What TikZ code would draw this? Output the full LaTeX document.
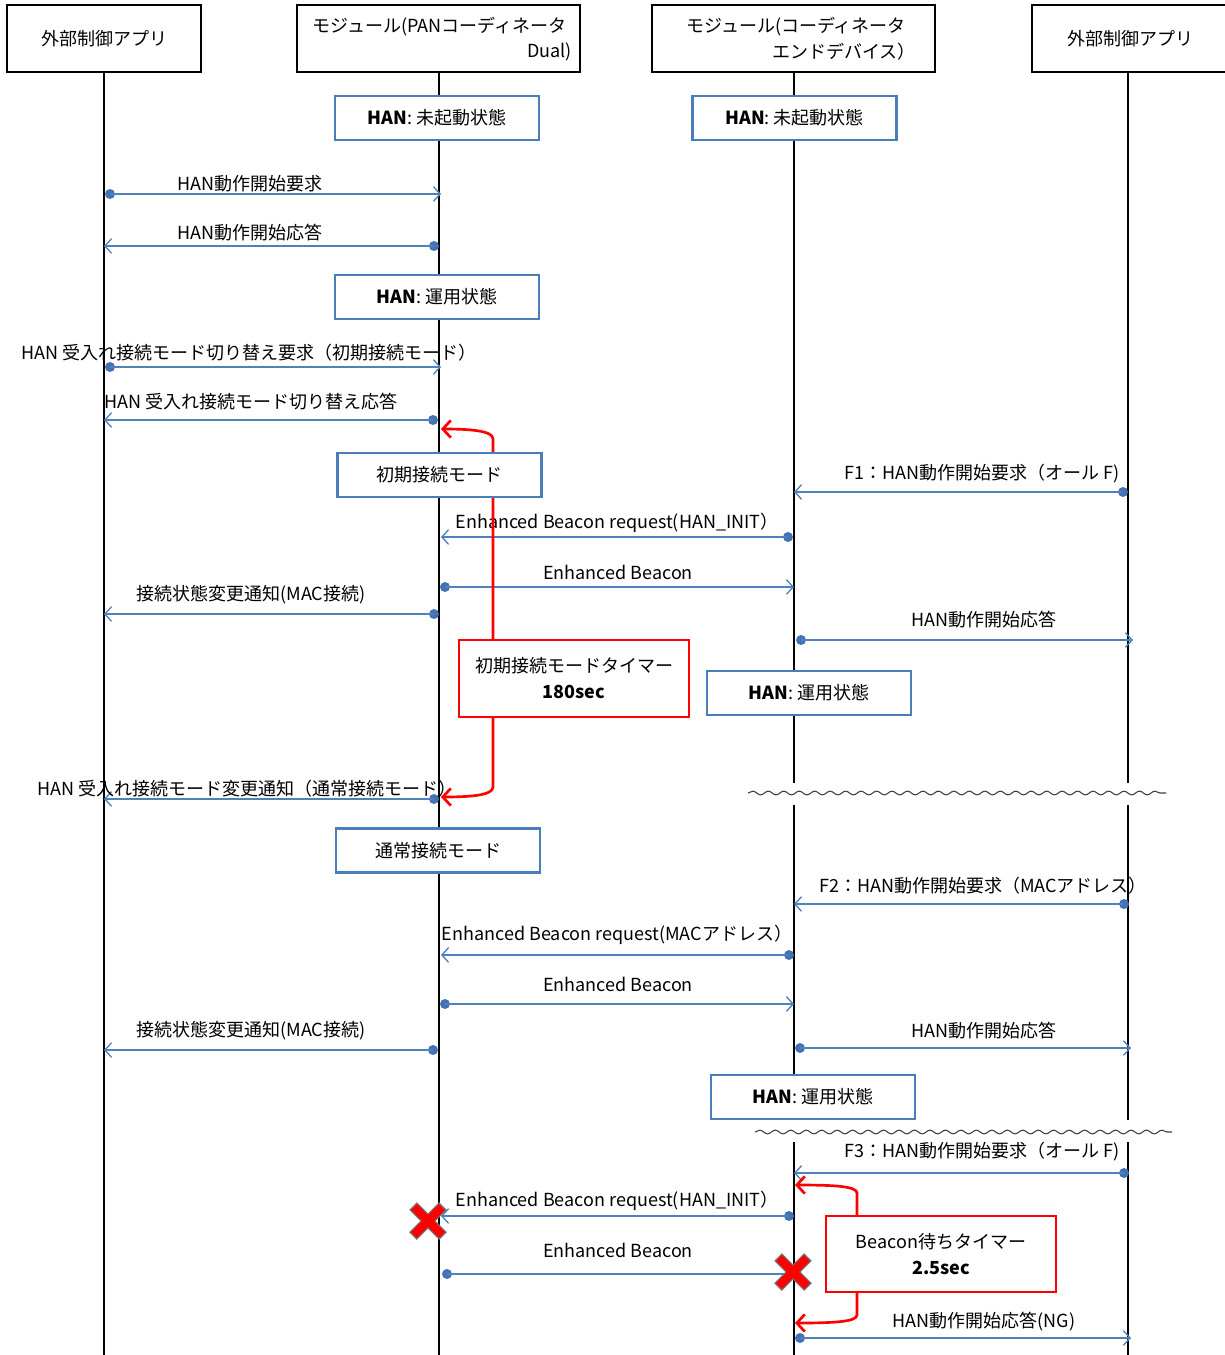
\documentclass[tikz,border=0pt]{standalone}
\usepackage{fontspec}
\setmainfont{Noto Sans CJK JP}
\usetikzlibrary{arrows.meta,decorations.pathmorphing}
\definecolor{mblue}{RGB}{79,129,189}
\definecolor{bblue}{RGB}{74,126,187}
\definecolor{dblue}{RGB}{68,114,180}
\begin{document}
\begin{tikzpicture}[x=0.75pt,y=-0.75pt,
  every node/.style={font=\fontsize{13.5pt}{17pt}\selectfont, inner sep=0pt},
  header/.style={draw, line width=1.9pt, fill=white, minimum height=67*0.75pt},
  life/.style={line width=1.8pt, black},
  state/.style={draw=bblue, line width=1.6pt, fill=white, minimum width=204*0.75pt, minimum height=44*0.75pt},
  timerbox/.style={draw=red, line width=1.6pt, fill=white, minimum width=230*0.75pt, minimum height=77*0.75pt, align=center, font=\fontsize{13.5pt}{19.5pt}\selectfont},
  msg/.style={draw=mblue, line width=1pt, -{Straight Barb[length=5pt,width=11pt,line width=1pt]}},
  msgnt/.style={draw=mblue, line width=1pt},
  mdot/.style={circle, fill=dblue, minimum size=7.5pt},
  redarr/.style={draw=red, line width=2pt, -{Straight Barb[length=6pt,width=13pt,line width=2pt]}},
  wave/.style={decorate, decoration={snake, segment length=11.6pt, amplitude=1.4pt}, line width=0.8pt, black!75}
]
\useasboundingbox (0,0) rectangle (1224,1355);

% headers
\node[header, minimum width=194*0.75pt] (h1) at (104,38.5) {外部制御アプリ};
\node[header, minimum width=283*0.75pt] (h2) at (438.5,38.5) {};
\node[anchor=west] (h2a) at (312,27) {モジュール(PANコーディネータ};
\node[anchor=east] (h2b) at (572,52) {Dual)};
\node[header, minimum width=283*0.75pt] (h3) at (793.5,38.5) {};
\node[anchor=west] (h3a) at (686,27) {モジュール(コーディネータ};
\node[anchor=east] (h3b) at (916,52) {エンドデバイス）};
\node[header, minimum width=212*0.75pt] (h4) at (1138,38.5) {};
\node (h4a) at (1130,39) {外部制御アプリ};

% lifelines
\coordinate (l1b) at (104,1355);
\coordinate (l2b) at (439,1355);
\coordinate (l3t) at (794,73);
\coordinate (l4t) at (1128,73);
\draw[life] (h1.south) -- (l1b);
\draw[life] (439,73) -- (l2b);
\draw[life] (l3t) -- (794,783) (794,805) -- (794,1120) (794,1142) -- (794,1355);
\draw[life] (l4t) -- (1128,783) (1128,805) -- (1128,1120) (1128,1142) -- (1128,1355);

% messages
\node[mdot] (d1) at (110,194) {}; \coordinate (e1) at (441,194);
\draw[msg] (d1.center) -- (e1);
\node (t1) at (250,184) {HAN動作開始要求};

\node[mdot] (d2) at (434,246) {}; \coordinate (e2) at (104,246);
\draw[msg] (d2.center) -- (e2);
\node (t2) at (250,233) {HAN動作開始応答};

\node[mdot] (d3) at (110,367) {}; \coordinate (e3) at (441,367);
\draw[msg] (d3.center) -- (e3);
\node (t3) at (249,353) {HAN 受入れ接続モード切り替え要求（初期接続モード）};

\node[mdot] (d4) at (433,420) {}; \coordinate (e4) at (104,420);
\draw[msg] (d4.center) -- (e4);
\node (t4) at (251,402) {HAN 受入れ接続モード切り替え応答};

\node[mdot] (d5) at (1123,492) {}; \coordinate (e5) at (794,492);
\draw[msg] (d5.center) -- (e5);
\node (t5) at (982,474) {F1：HAN動作開始要求（オール F)};

\node[mdot] (d6) at (788,537) {}; \coordinate (e6) at (441,537);
\draw[msg] (d6.center) -- (e6);
\node (t6) at (617,523) {Enhanced Beacon request(HAN\_INIT）};

\node[mdot] (d7) at (445,587) {}; \coordinate (e7) at (794,587);
\draw[msg] (d7.center) -- (e7);
\node (t7) at (618,572) {Enhanced Beacon};

\node[mdot] (d8) at (434,614) {}; \coordinate (e8) at (104,614);
\draw[msg] (d8.center) -- (e8);
\node (t8) at (251,595) {接続状態変更通知(MAC接続)};

\node[mdot] (d9) at (801,640) {}; \coordinate (e9) at (1133,640);
\draw[msg] (d9.center) -- (e9);
\node (t9) at (984,620) {HAN動作開始応答};

\node[mdot] (d10) at (434,799) {}; \coordinate (e10) at (104,799);
\draw[msg] (d10.center) -- (e10);
\node (t10) at (247,789) {HAN 受入れ接続モード変更通知（通常接続モード）};

\node[mdot] (d11) at (1124,904) {}; \coordinate (e11) at (794,904);
\draw[msg] (d11.center) -- (e11);
\node (t11) at (983,886) {F2：HAN動作開始要求（MACアドレス）};

\node[mdot] (d12) at (789,955) {}; \coordinate (e12) at (441,955);
\draw[msg] (d12.center) -- (e12);
\node (t12) at (617,935) {Enhanced Beacon request(MACアドレス）};

\node[mdot] (d13) at (445,1004) {}; \coordinate (e13) at (794,1004);
\draw[msg] (d13.center) -- (e13);
\node (t13) at (618,984) {Enhanced Beacon};

\node[mdot] (d14) at (433,1050) {}; \coordinate (e14) at (104,1050);
\draw[msg] (d14.center) -- (e14);
\node (t14) at (251,1031) {接続状態変更通知(MAC接続)};

\node[mdot] (d15) at (800,1048) {}; \coordinate (e15) at (1131,1048);
\draw[msg] (d15.center) -- (e15);
\node (t15) at (984,1031) {HAN動作開始応答};

\node[mdot] (d16) at (1124,1173) {}; \coordinate (e16) at (794,1173);
\draw[msg] (d16.center) -- (e16);
\node (t16) at (982,1152) {F3：HAN動作開始要求（オール F)};

\node[mdot] (d17) at (789,1216) {}; \coordinate (e17) at (441,1216);
\draw[msg] (d17.center) -- (e17);
\node (t17) at (617,1201) {Enhanced Beacon request(HAN\_INIT）};

\node[mdot] (d18) at (447,1274) {}; \coordinate (e18) at (793,1274);
\draw[msgnt] (d18.center) -- (e18);
\node (t18) at (618,1250) {Enhanced Beacon};

\node[mdot] (d19) at (800,1338) {}; \coordinate (e19) at (1131,1338);
\draw[msg] (d19.center) -- (e19);
\node (t19) at (984,1322) {HAN動作開始応答(NG)};

% timer boxes
\node[timerbox] (tm1) at (574,678.5) {初期接続モードタイマー\\\textbf{180sec}};
\node[timerbox, minimum height=76*0.75pt] (tm2) at (941,1254) {Beacon待ちタイマー\\\textbf{2.5sec}};

% red connectors
\coordinate (r1a) at (441,429);
\coordinate (r1b) at (441,797);
\coordinate (r2a) at (795,1185);
\coordinate (r2b) at (795,1323);
\draw[redarr] (tm1.north -| 493,0) -- (493,439) .. controls (493,431) and (472,429) .. (r1a);
\draw[redarr] (tm1.south -| 493,0) -- (493,787) .. controls (493,795) and (472,797) .. (r1b);
\draw[redarr] (tm2.north -| 857,0) -- (857,1193) .. controls (857,1186) and (832,1185) .. (r2a);
\draw[redarr] (tm2.south -| 857,0) -- (857,1315) .. controls (857,1322) and (832,1323) .. (r2b);

% state and mode boxes
\node[state] (s1) at (437,118) {\textbf{HAN}: 未起動状態};
\node[state] (s2) at (794.5,118) {\textbf{HAN}: 未起動状態};
\node[state] (s3) at (437,297) {\textbf{HAN}: 運用状態};
\node[state] (mo1) at (439.5,475) {初期接続モード};
\node[state] (s4) at (809,693) {\textbf{HAN}: 運用状態};
\node[state] (mo2) at (438,850.5) {通常接続モード};
\node[state] (s5) at (813,1097) {\textbf{HAN}: 運用状態};

% red crosses
\foreach \cx/\cy in {428/1221, 793/1272} {
  \draw[line width=8pt, black!55] ({\cx-15},{\cy-15}) -- ({\cx+15},{\cy+15}) ({\cx-15},{\cy+15}) -- ({\cx+15},{\cy-15});
  \draw[line width=6.2pt, red] ({\cx-14},{\cy-14}) -- ({\cx+14},{\cy+14}) ({\cx-14},{\cy+14}) -- ({\cx+14},{\cy-14});
}

% time breaks
\draw[wave] (748,793) -- (1166,793);
\draw[wave] (755,1132) -- (1172,1132);
\end{tikzpicture}
\end{document}
